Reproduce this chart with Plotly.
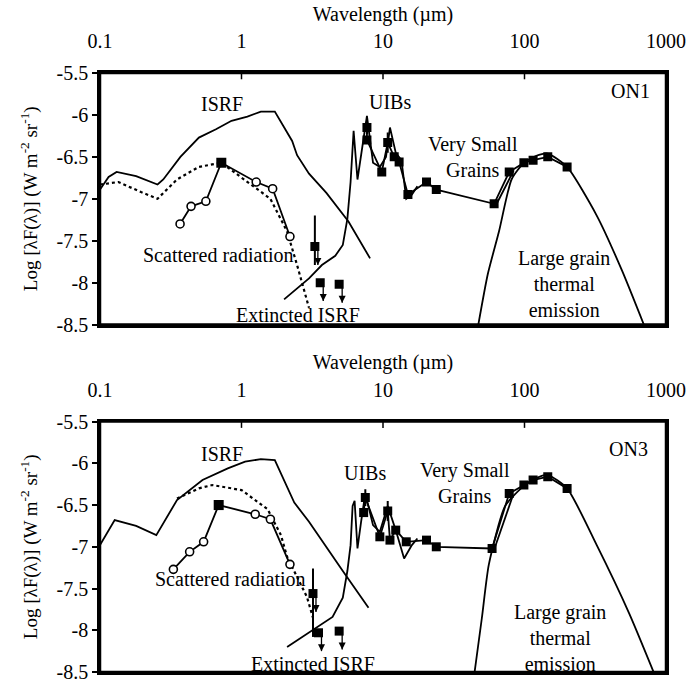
import numpy as np
import plotly.graph_objects as go

FONT = "Liberation Serif"

# ---------------- ON1 (top panel) ----------------
on1_isrf_x = [0.1, 0.115, 0.131, 0.18, 0.255, 0.28, 0.37, 0.5, 0.66, 0.85, 1.1, 1.37, 1.72, 2.0, 2.28, 2.47, 3.0, 3.98, 5.7, 8.1]
on1_isrf_y = [-6.89, -6.74, -6.68, -6.73, -6.83, -6.77, -6.5, -6.27, -6.17, -6.07, -6.02, -5.96, -5.96, -6.15, -6.31, -6.48, -6.70, -6.93, -7.27, -7.71]

on1_scatmod_x = [0.1, 0.135, 0.195, 0.255, 0.35, 0.5, 0.72, 1.17, 1.6, 2.1, 2.47, 3.0]
on1_scatmod_y = [-6.83, -6.80, -6.92, -7.0, -6.77, -6.62, -6.57, -6.83, -7.0, -7.39, -7.79, -8.3]

on1_scat_x = [0.368, 0.44, 0.56, 0.72, 1.27, 1.66, 2.2]
on1_scat_y = [-7.30, -7.09, -7.03, -6.57, -6.80, -6.88, -7.45]
on1_scat_filled = [False, False, False, True, False, False, False]

on1_uib_x = [2.0, 3.0, 3.7, 4.6, 5.2, 5.6, 5.9, 6.2, 6.6, 7.0, 7.7, 8.5, 9.5, 10.5, 11.2, 12.3, 13.5, 14.6, 16.0, 17.5]
on1_uib_y = [-8.2, -7.95, -7.79, -7.68, -7.55, -7.24, -6.8, -6.19, -6.77, -6.5, -6.01, -6.57, -6.62, -6.5, -6.15, -6.45, -6.54, -7.0, -6.95, -6.85]

on1_obs_x = [7.7, 7.7, 9.8, 10.8, 12.0, 13.0, 15.0, 20.3, 23.8, 61, 78, 99, 115, 146, 200]
on1_obs_y = [-6.15, -6.30, -6.68, -6.33, -6.50, -6.56, -6.95, -6.80, -6.89, -7.06, -6.68, -6.57, -6.54, -6.50, -6.62]
on1_obs_err = [0.08, 0.0, 0.0, 0.12, 0.0, 0.0, 0.05, 0.0, 0.0, 0.0, 0.0, 0.0, 0.0, 0.0, 0.0]

on1_vsg_x = [64, 84]
on1_vsg_y = [-7.05, -6.66]

on1_big_x = [46.5, 55, 66, 81, 99, 120, 146, 200, 324, 490, 720]
on1_big_y = [-8.56, -7.9, -7.39, -6.77, -6.57, -6.49, -6.46, -6.62, -7.20, -7.86, -8.56]

on1_lim_x = [3.3, 3.6, 4.9]
on1_lim_y = [-7.57, -8.0, -8.02]
on1_lim_up = [0.37, 0.0, 0.0]
on1_lim_dn = [0.22, 0.0, 0.0]

# ---------------- ON3 (bottom panel) ----------------
on3_isrf_x = [0.1, 0.127, 0.18, 0.25, 0.35, 0.53, 0.8, 1.06, 1.37, 1.72, 2.36, 3.0, 5.2, 7.9]
on3_isrf_y = [-6.98, -6.68, -6.75, -6.86, -6.44, -6.20, -6.06, -5.98, -5.95, -5.96, -6.47, -6.70, -7.29, -7.73]

on3_scatmod_x = [0.35, 0.5, 0.62, 1.0, 1.53, 1.9, 2.1, 2.6, 2.9, 3.2]
on3_scatmod_y = [-6.42, -6.3, -6.26, -6.32, -6.55, -6.86, -7.12, -7.45, -7.6, -7.85]

on3_scat_x = [0.33, 0.43, 0.54, 0.69, 1.25, 1.6, 2.2]
on3_scat_y = [-7.27, -7.06, -6.94, -6.50, -6.61, -6.67, -7.21]
on3_scat_filled = [False, False, False, True, False, False, False]

on3_uib_x = [2.1, 3.4, 4.4, 5.2, 5.6, 5.9, 6.1, 6.3, 6.6, 7.0, 7.5, 8.5, 9.5, 10.8, 12.3, 14.1, 16.0, 17.5]
on3_uib_y = [-8.2, -7.96, -7.84, -7.61, -7.29, -6.98, -6.51, -6.45, -7.02, -6.7, -6.36, -6.74, -6.82, -6.51, -6.8, -7.14, -6.98, -6.9]

on3_obs_x = [7.3, 7.5, 9.5, 10.8, 11.2, 12.3, 14.6, 20.3, 23.8, 59, 78, 99, 115, 146, 200]
on3_obs_y = [-6.59, -6.41, -6.88, -6.57, -6.92, -6.80, -6.94, -6.92, -7.0, -7.02, -6.36, -6.26, -6.20, -6.16, -6.30]
on3_obs_err = [0.0, 0.1, 0.0, 0.12, 0.0, 0.0, 0.0, 0.0, 0.0, 0.0, 0.0, 0.0, 0.0, 0.0, 0.0]

on3_vsg_x = [62, 83]
on3_vsg_y = [-7.0, -6.38]

on3_big_x = [44, 50, 56, 73, 99, 120, 146, 200, 324, 550, 840]
on3_big_y = [-8.55, -7.85, -7.21, -6.51, -6.27, -6.18, -6.14, -6.30, -6.98, -7.80, -8.55]

on3_lim_x = [3.2, 3.5, 4.9]
on3_lim_y = [-7.56, -8.03, -8.01]
on3_lim_up = [0.30, 0.0, 0.0]
on3_lim_dn = [0.52, 0.0, 0.0]

x_ticks = [0.1, 1, 10, 100, 1000]
x_ticktext = ["0.1", "1", "10", "100", "1000"]
y_ticks = [-8.5, -8, -7.5, -7, -6.5, -6, -5.5]
y_ticktext = ["-8.5", "-8", "-7.5", "-7", "-6.5", "-6", "-5.5"]

fig = go.Figure()
LW = 1.8
ARROW_LEN = 0.22   # length of upper-limit arrows, in log flux units
ARROW_DX = 1.05    # small horizontal offset factor of arrows from the squares


def add_panel(xa, ya, isrf_x, isrf_y, sm_x, sm_y, sc_x, sc_y, sc_f, uib_x, uib_y,
              obs_x, obs_y, obs_err, vsg_x, vsg_y, big_x, big_y, lim_x, lim_y, lim_up, lim_dn):
    kw = dict(xaxis=xa, yaxis=ya, showlegend=False, hoverinfo="skip")
    fig.add_trace(go.Scatter(x=isrf_x, y=isrf_y, mode="lines", line=dict(color="black", width=LW), **kw))
    fig.add_trace(go.Scatter(x=sm_x, y=sm_y, mode="lines", line=dict(color="black", width=2.2, dash="dot"), **kw))
    fig.add_trace(go.Scatter(x=uib_x, y=uib_y, mode="lines", line=dict(color="black", width=LW), **kw))
    fig.add_trace(go.Scatter(x=big_x, y=big_y, mode="lines", line=dict(color="black", width=LW, shape="spline", smoothing=0.6), **kw))
    fig.add_trace(go.Scatter(x=vsg_x, y=vsg_y, mode="lines", line=dict(color="black", width=LW), **kw))
    fig.add_trace(go.Scatter(x=obs_x, y=obs_y, mode="lines+markers",
                             line=dict(color="black", width=LW),
                             marker=dict(symbol="square", size=9, color="black"),
                             error_y=dict(type="data", array=obs_err, color="black", thickness=2, width=0),
                             **kw))
    # scattered radiation: connecting line, open circles, filled square
    fig.add_trace(go.Scatter(x=sc_x, y=sc_y, mode="lines", line=dict(color="black", width=LW), **kw))
    ox = [x for x, f in zip(sc_x, sc_f) if not f]
    oy = [y for y, f in zip(sc_y, sc_f) if not f]
    fx = [x for x, f in zip(sc_x, sc_f) if f]
    fy = [y for y, f in zip(sc_y, sc_f) if f]
    fig.add_trace(go.Scatter(x=ox, y=oy, mode="markers",
                             marker=dict(symbol="circle", size=8, color="#ffffff",
                                         line=dict(color="#000000", width=1.6)), **kw))
    fig.add_trace(go.Scatter(x=fx, y=fy, mode="markers",
                             marker=dict(symbol="square", size=10, color="#000000"), **kw))
    # upper limits: squares with error bar, plus downward arrows
    fig.add_trace(go.Scatter(x=lim_x, y=lim_y, mode="markers",
                             marker=dict(symbol="square", size=9, color="black"),
                             error_y=dict(type="data", symmetric=False, array=lim_up, arrayminus=lim_dn,
                                          color="black", thickness=2, width=0),
                             **kw))
    sx, sy = [], []
    for lx, ly in zip(lim_x, lim_y):
        sx += [lx * ARROW_DX, lx * ARROW_DX, None]
        sy += [ly, ly - ARROW_LEN, None]
    fig.add_trace(go.Scatter(x=sx, y=sy, mode="lines", line=dict(color="black", width=1.3), **kw))
    fig.add_trace(go.Scatter(x=[lx * ARROW_DX for lx in lim_x], y=[ly - ARROW_LEN for ly in lim_y],
                             mode="markers", marker=dict(symbol="arrow-down", size=7, color="black"), **kw))
    # inside tick marks at the top border (x positions from the tick array)
    for tv in x_ticks[1:-1]:
        fig.add_shape(type="line", xref=xa, yref=f"{ya} domain", x0=tv, x1=tv, y0=1, y1=0.975,
                      line=dict(color="black", width=1.5))
    # plot frame
    fig.add_shape(type="rect", xref=f"{xa} domain", yref=f"{ya} domain", x0=0, x1=1, y0=0, y1=1,
                  line=dict(color="black", width=2.5), fillcolor="rgba(0,0,0,0)", layer="above")


add_panel("x", "y", on1_isrf_x, on1_isrf_y, on1_scatmod_x, on1_scatmod_y, on1_scat_x, on1_scat_y,
          on1_scat_filled, on1_uib_x, on1_uib_y, on1_obs_x, on1_obs_y, on1_obs_err,
          on1_vsg_x, on1_vsg_y, on1_big_x, on1_big_y, on1_lim_x, on1_lim_y, on1_lim_up, on1_lim_dn)
add_panel("x2", "y2", on3_isrf_x, on3_isrf_y, on3_scatmod_x, on3_scatmod_y, on3_scat_x, on3_scat_y,
          on3_scat_filled, on3_uib_x, on3_uib_y, on3_obs_x, on3_obs_y, on3_obs_err,
          on3_vsg_x, on3_vsg_y, on3_big_x, on3_big_y, on3_lim_x, on3_lim_y, on3_lim_up, on3_lim_dn)

TF = dict(family=FONT, size=20, color="black")


def xaxis_cfg(anchor):
    # transparent outside ticks only push the labels away from the frame
    return dict(type="log", range=[-1, 3], side="top", anchor=anchor, domain=[0, 1],
                tickvals=x_ticks, ticktext=x_ticktext, ticks="outside", ticklen=14, tickwidth=1,
                tickcolor="rgba(0,0,0,0)", showgrid=False, zeroline=False,
                showline=True, linecolor="black", linewidth=2.5, mirror=True,
                tickfont=TF,
                title=dict(text="Wavelength (µm)", font=TF, standoff=4))


def yaxis_cfg(anchor, dom):
    return dict(range=[-8.5, -5.5], domain=dom, anchor=anchor,
                tickvals=y_ticks, ticktext=y_ticktext, ticks="outside", ticklen=5, tickwidth=1.5,
                tickcolor="black", showgrid=False, zeroline=False,
                showline=True, linecolor="black", linewidth=2.5, mirror=True,
                tickfont=TF,
                title=dict(text="Log [λF(λ)] (W m<sup>-2</sup> sr<sup>-1</sup>)",
                           font=dict(family=FONT, size=19, color="black"), standoff=14))


fig.update_layout(
    width=698, height=695,
    margin=dict(l=100, r=20, t=71, b=12),
    paper_bgcolor="white", plot_bgcolor="white",
    font=dict(family=FONT, size=20, color="black"),
    xaxis=xaxis_cfg("y"),
    yaxis=yaxis_cfg("x", [0.58, 1.0]),
    xaxis2=xaxis_cfg("y2"),
    yaxis2=yaxis_cfg("x2", [0.0, 0.418]),
)

labels = [
    ("x", "y", 0.73, -5.87, "ISRF"),
    ("x", "y", 11.2, -5.84, "UIBs"),
    ("x", "y", 560, -5.72, "ON1"),
    ("x", "y", 43, -6.5, "Very Small<br>Grains"),
    ("x", "y", 0.69, -7.67, "Scattered radiation"),
    ("x", "y", 2.5, -8.39, "Extincted ISRF"),
    ("x", "y", 190, -8.02, "Large grain<br>thermal<br>emission"),
    ("x2", "y2", 0.73, -5.89, "ISRF"),
    ("x2", "y2", 7.5, -6.12, "UIBs"),
    ("x2", "y2", 540, -5.83, "ON3"),
    ("x2", "y2", 38, -6.24, "Very Small<br>Grains"),
    ("x2", "y2", 0.84, -7.38, "Scattered radiation"),
    ("x2", "y2", 3.2, -8.40, "Extincted ISRF"),
    ("x2", "y2", 178, -8.09, "Large grain<br>thermal<br>emission"),
]
for xr, yr, lx, ly, txt in labels:
    fig.add_annotation(x=np.log10(lx), y=ly, xref=xr, yref=yr, text=txt, showarrow=False,
                       font=dict(family=FONT, size=20, color="black"), align="center")

fig.write_html("out.html")
